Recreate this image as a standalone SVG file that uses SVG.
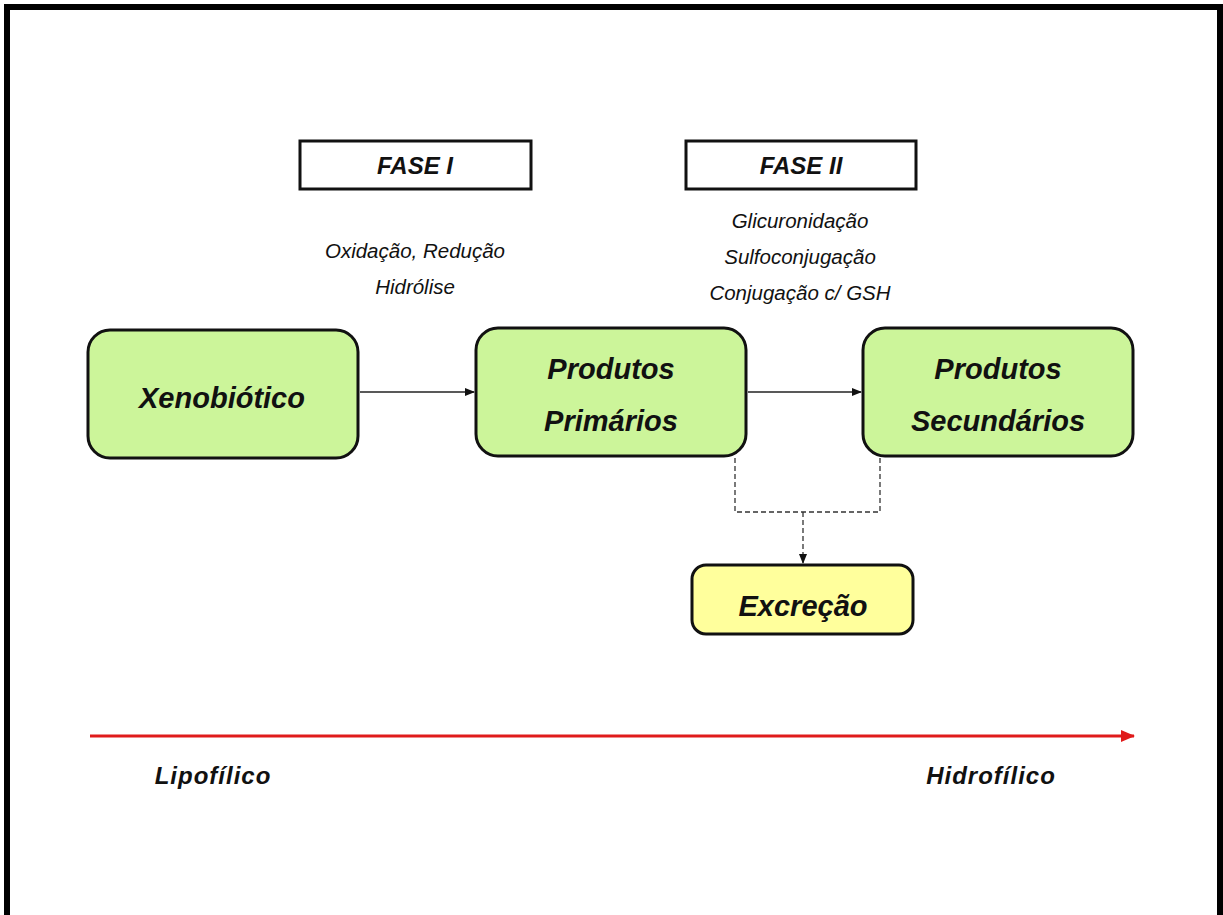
<svg xmlns="http://www.w3.org/2000/svg" width="1223" height="915" viewBox="0 0 1223 915">
<defs>
<style>
.t{font-family:"Liberation Sans",Arial,sans-serif;font-style:italic;text-anchor:middle;fill:#111}
.b{font-weight:bold}
.s{font-size:20.5px}
.n{font-size:29px;font-weight:bold}
.node{stroke:#111;stroke-width:3}
.green{fill:#ccf59a}
.yellow{fill:#ffff9c}
.phase{fill:#fff;stroke:#111;stroke-width:3}
.conn{stroke:#222;stroke-width:1.3;fill:none}
.dash{stroke:#333;stroke-width:1.3;fill:none;stroke-dasharray:5,3}
</style>
<marker id="ah" markerWidth="10" markerHeight="8" refX="9" refY="4" orient="auto" markerUnits="userSpaceOnUse">
<path d="M0,0 L10,4 L0,8 Z" fill="#111"/>
</marker>
<marker id="rah" markerWidth="14" markerHeight="12" refX="13" refY="6" orient="auto" markerUnits="userSpaceOnUse">
<path d="M0,0 L14,6 L0,12 Z" fill="#e01b1b"/>
</marker>
</defs>
<rect width="1223" height="915" fill="#fff"/>
<path d="M7,915 V7 H1220 V915" fill="none" stroke="#000" stroke-width="6"/>

<g id="fase1">
<rect class="phase" x="300" y="141" width="231" height="48"/>
<text class="t b" x="415" y="174" font-size="24">FASE I</text>
</g>
<g id="fase2">
<rect class="phase" x="686" y="141" width="230" height="48"/>
<text class="t b" x="801" y="174" font-size="24">FASE II</text>
</g>
<g id="fase1-text">
<text class="t s" x="415" y="258">Oxidação, Redução</text>
<text class="t s" x="415" y="294">Hidrólise</text>
</g>
<g id="fase2-text">
<text class="t s" x="800" y="228">Glicuronidação</text>
<text class="t s" x="800" y="264">Sulfoconjugação</text>
<text class="t s" x="800" y="300">Conjugação c/ GSH</text>
</g>

<g id="connectors">
<line class="conn" x1="360" y1="392" x2="474" y2="392" marker-end="url(#ah)"/>
<line class="conn" x1="748" y1="392" x2="861" y2="392" marker-end="url(#ah)"/>
<path class="dash" d="M735,458 V512 H880 V458"/>
<line class="dash" x1="803" y1="512" x2="803" y2="563" marker-end="url(#ah)"/>
<line x1="90" y1="736" x2="1134" y2="736" stroke="#e01b1b" stroke-width="3" marker-end="url(#rah)"/>
</g>

<g id="xenobiotico">
<rect class="node green" x="88" y="330" width="270" height="128" rx="22"/>
<text class="t n" x="222" y="408" font-size="30">Xenobiótico</text>
</g>
<g id="primarios">
<rect class="node green" x="476" y="328" width="270" height="128" rx="22"/>
<text class="t n" x="611" y="379">Produtos</text>
<text class="t n" x="611" y="431">Primários</text>
</g>
<g id="secundarios">
<rect class="node green" x="863" y="328" width="270" height="128" rx="22"/>
<text class="t n" x="998" y="379">Produtos</text>
<text class="t n" x="998" y="431">Secundários</text>
</g>
<g id="excrecao">
<rect class="node yellow" x="692" y="565" width="221" height="69" rx="14"/>
<text class="t n" x="803" y="616" font-size="28">Excreção</text>
</g>

<g id="lipofilico">
<text class="t b" x="213" y="784" font-size="24" letter-spacing="1">Lipofílico</text>
</g>
<g id="hidrofilico">
<text class="t b" x="991" y="784" font-size="24" letter-spacing="1">Hidrofílico</text>
</g>
</svg>
